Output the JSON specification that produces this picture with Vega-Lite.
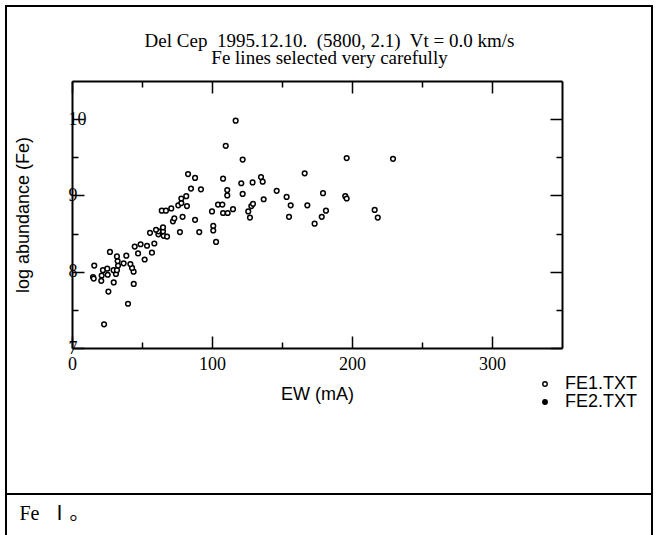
{
  "$schema": "https://vega.github.io/schema/vega-lite/v6.json",
  "background": "white",
  "padding": {"left": 5, "top": 5, "right": 5, "bottom": 0},
  "bounds": "flush",
  "spacing": 0,
  "config": {
    "view": {"stroke": "black", "strokeWidth": 2},
    "axis": {"grid": false, "domainColor": "black", "domainWidth": 2, "tickColor": "black", "tickWidth": 1.5, "labelColor": "black", "titleColor": "black"}
  },
  "vconcat": [
    {
      "width": 646,
      "height": 488,
      "layer": [
        {
          "data": {"values": [
            {"EW": 22.9, "logA": 7.31, "file": "FE1.TXT"},
            {"EW": 40.0, "logA": 7.58, "file": "FE1.TXT"},
            {"EW": 26.0, "logA": 7.74, "file": "FE1.TXT"},
            {"EW": 29.8, "logA": 7.86, "file": "FE1.TXT"},
            {"EW": 44.1, "logA": 7.84, "file": "FE1.TXT"},
            {"EW": 20.9, "logA": 7.88, "file": "FE1.TXT"},
            {"EW": 15.0, "logA": 7.93, "file": "FE1.TXT"},
            {"EW": 15.5, "logA": 7.91, "file": "FE1.TXT"},
            {"EW": 21.2, "logA": 7.95, "file": "FE1.TXT"},
            {"EW": 25.5, "logA": 7.96, "file": "FE1.TXT"},
            {"EW": 31.4, "logA": 7.97, "file": "FE1.TXT"},
            {"EW": 15.9, "logA": 8.08, "file": "FE1.TXT"},
            {"EW": 22.1, "logA": 8.02, "file": "FE1.TXT"},
            {"EW": 25.2, "logA": 8.04, "file": "FE1.TXT"},
            {"EW": 29.7, "logA": 8.02, "file": "FE1.TXT"},
            {"EW": 32.1, "logA": 8.02, "file": "FE1.TXT"},
            {"EW": 44.0, "logA": 8.00, "file": "FE1.TXT"},
            {"EW": 32.9, "logA": 8.08, "file": "FE1.TXT"},
            {"EW": 42.9, "logA": 8.05, "file": "FE1.TXT"},
            {"EW": 41.7, "logA": 8.10, "file": "FE1.TXT"},
            {"EW": 36.9, "logA": 8.11, "file": "FE1.TXT"},
            {"EW": 32.6, "logA": 8.14, "file": "FE1.TXT"},
            {"EW": 27.1, "logA": 8.26, "file": "FE1.TXT"},
            {"EW": 32.1, "logA": 8.20, "file": "FE1.TXT"},
            {"EW": 38.8, "logA": 8.21, "file": "FE1.TXT"},
            {"EW": 51.9, "logA": 8.16, "file": "FE1.TXT"},
            {"EW": 47.2, "logA": 8.24, "file": "FE1.TXT"},
            {"EW": 57.1, "logA": 8.25, "file": "FE1.TXT"},
            {"EW": 44.8, "logA": 8.33, "file": "FE1.TXT"},
            {"EW": 49.0, "logA": 8.36, "file": "FE1.TXT"},
            {"EW": 53.6, "logA": 8.34, "file": "FE1.TXT"},
            {"EW": 58.8, "logA": 8.37, "file": "FE1.TXT"},
            {"EW": 55.7, "logA": 8.51, "file": "FE1.TXT"},
            {"EW": 61.7, "logA": 8.49, "file": "FE1.TXT"},
            {"EW": 65.5, "logA": 8.47, "file": "FE1.TXT"},
            {"EW": 67.9, "logA": 8.46, "file": "FE1.TXT"},
            {"EW": 65.0, "logA": 8.53, "file": "FE1.TXT"},
            {"EW": 61.7, "logA": 8.53, "file": "FE1.TXT"},
            {"EW": 60.0, "logA": 8.55, "file": "FE1.TXT"},
            {"EW": 65.0, "logA": 8.58, "file": "FE1.TXT"},
            {"EW": 77.1, "logA": 8.52, "file": "FE1.TXT"},
            {"EW": 72.1, "logA": 8.66, "file": "FE1.TXT"},
            {"EW": 73.1, "logA": 8.70, "file": "FE1.TXT"},
            {"EW": 79.0, "logA": 8.72, "file": "FE1.TXT"},
            {"EW": 87.9, "logA": 8.68, "file": "FE1.TXT"},
            {"EW": 64.1, "logA": 8.80, "file": "FE1.TXT"},
            {"EW": 67.1, "logA": 8.80, "file": "FE1.TXT"},
            {"EW": 70.9, "logA": 8.83, "file": "FE1.TXT"},
            {"EW": 75.9, "logA": 8.87, "file": "FE1.TXT"},
            {"EW": 78.1, "logA": 8.90, "file": "FE1.TXT"},
            {"EW": 82.1, "logA": 8.86, "file": "FE1.TXT"},
            {"EW": 78.1, "logA": 8.96, "file": "FE1.TXT"},
            {"EW": 81.6, "logA": 8.99, "file": "FE1.TXT"},
            {"EW": 85.0, "logA": 9.09, "file": "FE1.TXT"},
            {"EW": 92.1, "logA": 9.08, "file": "FE1.TXT"},
            {"EW": 82.9, "logA": 9.28, "file": "FE1.TXT"},
            {"EW": 87.9, "logA": 9.23, "file": "FE1.TXT"},
            {"EW": 90.9, "logA": 8.52, "file": "FE1.TXT"},
            {"EW": 100.9, "logA": 8.60, "file": "FE1.TXT"},
            {"EW": 100.9, "logA": 8.54, "file": "FE1.TXT"},
            {"EW": 102.9, "logA": 8.39, "file": "FE1.TXT"},
            {"EW": 100.0, "logA": 8.79, "file": "FE1.TXT"},
            {"EW": 104.3, "logA": 8.88, "file": "FE1.TXT"},
            {"EW": 107.4, "logA": 8.88, "file": "FE1.TXT"},
            {"EW": 107.9, "logA": 8.77, "file": "FE1.TXT"},
            {"EW": 111.2, "logA": 8.77, "file": "FE1.TXT"},
            {"EW": 115.0, "logA": 8.82, "file": "FE1.TXT"},
            {"EW": 107.9, "logA": 9.22, "file": "FE1.TXT"},
            {"EW": 110.9, "logA": 9.07, "file": "FE1.TXT"},
            {"EW": 110.9, "logA": 9.00, "file": "FE1.TXT"},
            {"EW": 109.8, "logA": 9.65, "file": "FE1.TXT"},
            {"EW": 116.9, "logA": 9.98, "file": "FE1.TXT"},
            {"EW": 121.9, "logA": 9.47, "file": "FE1.TXT"},
            {"EW": 120.9, "logA": 9.16, "file": "FE1.TXT"},
            {"EW": 121.9, "logA": 9.02, "file": "FE1.TXT"},
            {"EW": 129.0, "logA": 9.17, "file": "FE1.TXT"},
            {"EW": 125.9, "logA": 8.79, "file": "FE1.TXT"},
            {"EW": 128.1, "logA": 8.86, "file": "FE1.TXT"},
            {"EW": 129.3, "logA": 8.89, "file": "FE1.TXT"},
            {"EW": 127.1, "logA": 8.71, "file": "FE1.TXT"},
            {"EW": 135.0, "logA": 9.24, "file": "FE1.TXT"},
            {"EW": 136.2, "logA": 9.18, "file": "FE1.TXT"},
            {"EW": 136.9, "logA": 8.95, "file": "FE1.TXT"},
            {"EW": 146.2, "logA": 9.06, "file": "FE1.TXT"},
            {"EW": 153.3, "logA": 8.98, "file": "FE1.TXT"},
            {"EW": 156.2, "logA": 8.87, "file": "FE1.TXT"},
            {"EW": 155.0, "logA": 8.72, "file": "FE1.TXT"},
            {"EW": 166.2, "logA": 9.29, "file": "FE1.TXT"},
            {"EW": 168.1, "logA": 8.87, "file": "FE1.TXT"},
            {"EW": 173.3, "logA": 8.63, "file": "FE1.TXT"},
            {"EW": 179.3, "logA": 9.03, "file": "FE1.TXT"},
            {"EW": 181.4, "logA": 8.80, "file": "FE1.TXT"},
            {"EW": 178.4, "logA": 8.72, "file": "FE1.TXT"},
            {"EW": 195.2, "logA": 8.99, "file": "FE1.TXT"},
            {"EW": 196.2, "logA": 8.96, "file": "FE1.TXT"},
            {"EW": 196.2, "logA": 9.49, "file": "FE1.TXT"},
            {"EW": 216.2, "logA": 8.81, "file": "FE1.TXT"},
            {"EW": 218.4, "logA": 8.71, "file": "FE1.TXT"},
            {"EW": 229.3, "logA": 9.48, "file": "FE1.TXT"}
          ]},
          "mark": {"type": "point", "filled": true, "stroke": "black", "strokeWidth": 1.5, "size": 22, "opacity": 1},
          "encoding": {
            "x": {
              "field": "EW", "type": "quantitative",
              "scale": {"domain": [0, 350], "range": [66, 556], "nice": false, "zero": false},
              "axis": {
                "orient": "bottom", "offset": -146,
                "values": [0, 50, 100, 150, 200, 250, 300],
                "labelExpr": "datum.value % 100 === 0 ? '' + datum.value : ''",
                "tickSize": {"condition": {"test": "datum.value % 100 === 0", "value": -12}, "value": -6},
                "labelFont": "Liberation Serif", "labelFontSize": 18, "labelPadding": 19,
                "labelFlush": false, "labelOverlap": false,
                "title": "EW (mA)", "titleFont": "Liberation Sans", "titleFontSize": 18,
                "titleFontWeight": "normal", "titleY": 46, "titleBaseline": "middle"
              }
            },
            "y": {
              "field": "logA", "type": "quantitative",
              "scale": {"domain": [7, 10.5], "range": [342, 75], "nice": false, "zero": false},
              "axis": {
                "orient": "left", "offset": -66,
                "values": [7, 7.5, 8, 8.5, 9, 9.5, 10],
                "labelExpr": "datum.value % 1 === 0 ? '' + datum.value : ''",
                "tickSize": {"condition": {"test": "datum.value % 1 === 0", "value": -12}, "value": -6},
                "labelFont": "Liberation Serif", "labelFontSize": 18, "labelPadding": 16,
                "labelAlign": "left", "labelBaseline": "middle",
                "labelFlush": false, "labelOverlap": false,
                "title": "log abundance (Fe)", "titleFont": "Liberation Sans", "titleFontSize": 18,
                "titleFontWeight": "normal", "titleX": -49, "titleBaseline": "middle"
              }
            },
            "fill": {
              "field": "file", "type": "nominal",
              "scale": {"domain": ["FE1.TXT", "FE2.TXT"], "range": ["white", "black"]},
              "legend": {
                "orient": "none", "legendX": 530, "legendY": 369, "title": null,
                "labelFont": "Liberation Sans", "labelFontSize": 18, "labelColor": "black",
                "symbolType": "circle", "symbolSize": 20, "symbolStrokeColor": "black",
                "symbolStrokeWidth": 1.4, "labelOffset": 11, "rowPadding": -4, "padding": 0, "offset": 0
              }
            }
          }
        },
        {
          "data": {"values": []},
          "mark": {"type": "point"},
          "encoding": {
            "x": {
              "field": "EW", "type": "quantitative",
              "scale": {"domain": [0, 350], "range": [66, 556], "nice": false, "zero": false},
              "axis": {
                "orient": "top", "offset": -75,
                "values": [0, 50, 100, 150, 200, 250, 300],
                "tickSize": {"condition": {"test": "datum.value % 100 === 0", "value": -12}, "value": -6},
                "labels": false,
                "title": ["Del Cep\u00a0 1995.12.10.\u00a0 (5800, 2.1)\u00a0 Vt = 0.0 km/s", "Fe lines selected very carefully"],
                "titleFont": "Liberation Serif", "titleFontSize": 19, "titleFontWeight": "normal",
                "titleX": 323, "titleY": -35, "titleAlign": "center", "titleBaseline": "alphabetic",
                "titleLineHeight": 17, "titleAngle": 0
              }
            },
            "y": {
              "field": "logA", "type": "quantitative",
              "scale": {"domain": [7, 10.5], "range": [342, 75], "nice": false, "zero": false},
              "axis": {
                "orient": "right", "offset": -90,
                "values": [7, 7.5, 8, 8.5, 9, 9.5, 10],
                "tickSize": {"condition": {"test": "datum.value % 1 === 0", "value": -12}, "value": -6},
                "labels": false, "title": null
              }
            }
          }
        }
      ],
      "resolve": {"axis": {"x": "independent", "y": "independent"}}
    },
    {
      "width": 646,
      "height": 60,
      "data": {"values": []},
      "mark": {"type": "point"},
      "encoding": {
        "x": {
          "field": "a", "type": "quantitative",
          "scale": {"domain": [0, 1]},
          "axis": {
            "orient": "top", "domain": false, "ticks": false, "labels": false, "grid": false,
            "title": "Fe\u00a0 Ⅰ。", "titleX": 13, "titleY": 25, "titleAlign": "left",
            "titleBaseline": "alphabetic", "titleAngle": 0,
            "titleFont": "'Liberation Serif', 'Noto Sans CJK JP'", "titleFontSize": 20, "titleFontWeight": "normal"
          }
        }
      }
    }
  ]
}
